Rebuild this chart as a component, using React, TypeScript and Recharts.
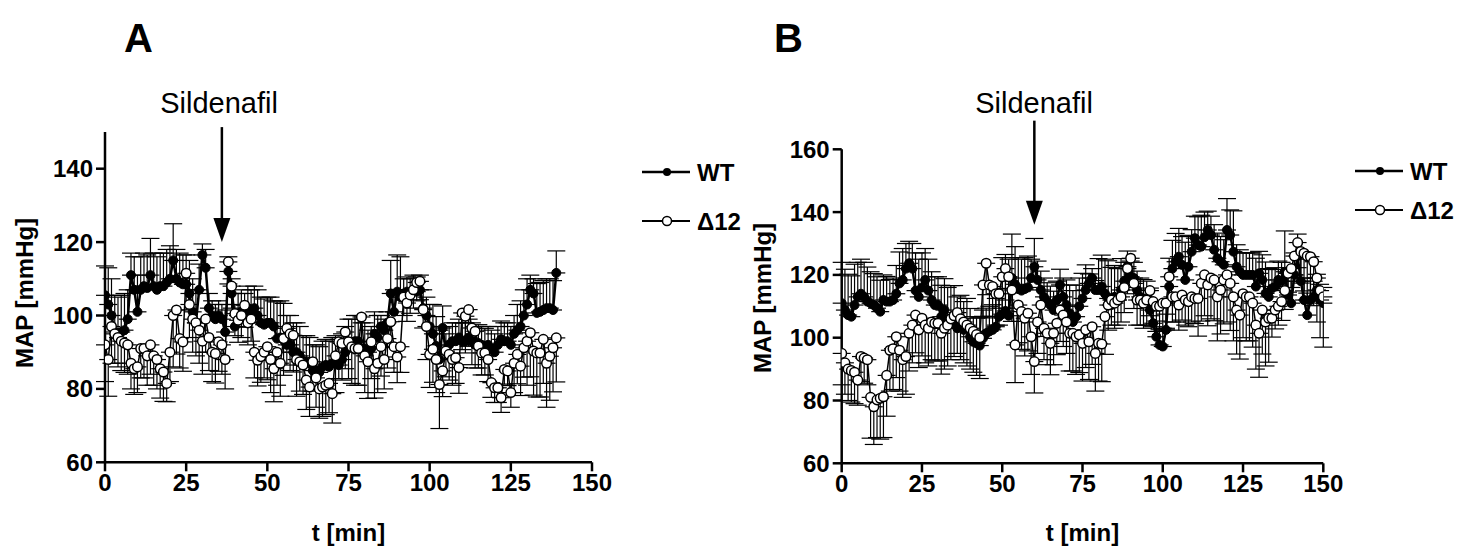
import React from 'react';
import { LineChart, Line, XAxis, YAxis, ErrorBar, ReferenceDot } from 'recharts';

// ---------- Panel A ----------
const minutesA = Array.from({ length: 140 }, (_, i) => i);
const wtA = [
  105.5, 103, 100, 95.5, 95, 95.5, 96, 99, 111, 107,
  101, 107, 108, 107.5, 111, 108, 107, 108, 108, 109,
  110, 115, 110, 109, 108.5, 108.5, 106, 101, 98, 107,
  116.5, 113, 102, 100, 99, 100, 99, 95.5, 112, 106,
  97, 100, 101, 100, 102, 101, 102, 100, 98, 97.5,
  98, 98, 97, 93.7, 94, 93.3, 92, 92, 90, 90,
  89, 87.5, 87.5, 87, 85, 85, 84.5, 86, 86.5, 86,
  87, 87.5, 86.5, 88, 90, 92, 92, 93, 93, 91,
  91, 90, 91, 95, 94, 97, 96, 98, 106, 101,
  106.5, 105, 106, 106.5, 106, 107, 106.5, 107, 102, 100,
  97, 95, 91.7, 88, 96.6, 90, 92, 93, 93, 94,
  93, 93, 94, 93, 92, 92.5, 92, 91.5, 92, 91,
  90, 92, 93.5, 93, 93, 92, 95, 96, 97, 100,
  103, 107, 106, 100.7, 101, 101.5, 102, 102, 101.5, 111.6,
];
const wtErrA = [
  8, 10, 10, 10, 10, 10, 10, 8, 6, 9,
  10, 9, 9, 9, 10, 9, 9, 9, 9, 9,
  9, 10, 8, 8, 8, 8, 9, 9, 9, 7,
  3, 5, 4, 4, 4, 4, 4, 6, 4, 4,
  6, 6, 6, 6, 6, 6, 6, 7, 7, 7,
  7, 7, 7, 10, 10, 10, 8, 8, 8, 8,
  8, 7, 7, 7, 7, 7, 7, 7, 7, 7,
  7, 7, 7, 7, 7, 7, 7, 7, 7, 7,
  7, 6, 6, 6, 6, 3, 3, 3, 9, 6,
  10, 11, 4, 4, 4, 4, 4, 4, 5, 5,
  6, 8, 8, 8, 6, 5, 5, 5, 5, 5,
  5, 5, 5, 5, 5, 5, 5, 5, 5, 5,
  5, 5, 5, 5, 5, 5, 5, 7, 7, 7,
  7, 4, 4, 8, 8, 8, 8, 8, 8, 6,
];
const d12A = [
  92, 88, 97, 95, 94, 93, 92.5, 92, 87, 85.5,
  86, 91, 91, 89, 92, 89, 88, 85.5, 84.6, 81.5,
  90, 100, 101.5, 93.7, 92.8, 111.5, 103, 99, 98, 96,
  93, 99, 94, 90, 89.6, 92.8, 92, 88, 114.6, 108,
  100.5, 98.7, 100, 102.8, 98, 99, 90, 87.8, 88.8, 90,
  91.5, 88, 85.5, 90, 87, 93.7, 96.5, 95, 94.6, 88,
  87.4, 86.5, 82.4, 80.5, 87.4, 83, 80, 80.5, 81, 81.5,
  78.7, 89, 92.8, 92.4, 95.5, 92.8, 91.5, 91, 91, 99.6,
  89, 87.4, 92.8, 85.5, 87, 91.5, 88, 93.7, 98.3, 91.5,
  88.7, 91.5, 105, 103.4, 105.6, 107, 109, 109.3, 101.6, 97,
  89.4, 90.8, 88, 81.2, 84.9, 90.3, 89.4, 88, 88.5, 85.8,
  100.7, 99.8, 101.6, 96.6, 95.7, 91.7, 89.8, 89.8, 88, 81.7,
  80.3, 80.3, 77.6, 85.3, 84.9, 79, 87, 89.4, 86.2, 91.2,
  93, 95.3, 90.3, 89.8, 89.8, 93.5, 87, 88.9, 91.2, 93.9,
];
const d12ErrA = [
  10, 10, 10, 8, 8, 8, 8, 8, 7, 7,
  7, 8, 8, 8, 8, 8, 8, 8, 8, 5,
  8, 14, 12, 8, 8, 10, 9, 9, 9, 9,
  9, 9, 9, 8, 8, 8, 8, 8, 6, 6,
  6, 6, 6, 6, 6, 6, 7, 7, 7, 7,
  9, 9, 9, 9, 9, 10, 10, 10, 10, 10,
  8, 8, 8, 8, 8, 8, 8, 8, 8, 8,
  8, 10, 10, 10, 10, 10, 10, 10, 10, 10,
  10, 10, 10, 8, 8, 8, 8, 8, 7, 7,
  7, 7, 5, 5, 5, 5, 5, 5, 5, 9,
  9, 9, 9, 12, 7, 7, 7, 7, 7, 7,
  10, 10, 10, 10, 10, 6, 6, 6, 6, 4,
  4, 4, 4, 4, 4, 4, 8, 8, 8, 8,
  12, 12, 12, 12, 12, 12, 12, 12, 12, 12,
];

// ---------- Panel B ----------
const minutesB = Array.from({ length: 151 }, (_, i) => i);
const wtB = [
  111, 108.8, 107.2, 106.7, 110.4, 113, 114, 113, 111.5, 111,
  110.4, 109.4, 108.3, 112, 111.5, 111.5, 112, 114, 117.3, 118.4,
  122, 123.7, 122, 115, 113, 116, 118.4, 115, 112, 110.4,
  110.4, 106.7, 108.8, 105, 105.6, 104.6, 103, 103.5, 102.5, 103.5,
  100.3, 98.7, 98.2, 97.5, 99.8, 101.4, 102, 102.5, 103.5, 106.7,
  107.5, 108.5, 107, 119, 117, 115.5, 115, 115.5, 116, 119,
  122.6, 118.4, 115.2, 113, 111.5, 110.4, 108.8, 112, 116.8, 113,
  110.4, 107.8, 105, 106.7, 110, 112.5, 115.2, 117.3, 119, 115.2,
  115.2, 116.3, 114, 112.5, 110.4, 113, 112, 115.2, 118, 122.6,
  119.4, 119, 115.2, 113, 112.5, 112, 108.8, 104.6, 100.3, 97.7,
  97.2, 102.5, 116.3, 122, 124.2, 125.8, 123.2, 118.4, 122.6, 127.4,
  131.7, 129.5, 129, 132, 134.3, 132.7, 128, 125.3, 124.2, 123.2,
  134.3, 132.7, 127.4, 122.6, 121, 120, 120, 120, 120, 116.3,
  120.5, 118.4, 114.1, 113, 115.7, 116.3, 118.4, 118, 121, 113.6,
  111, 120, 126, 118, 112, 107.2, 112, 113, 115.2, 112, 111,
];
const wtErrB = [
  13, 13, 13, 13, 13, 11, 11, 11, 11, 10,
  10, 10, 10, 8, 8, 7, 7, 9, 10, 10,
  8, 7, 8, 12, 12, 11, 10, 10, 9, 9,
  9, 10, 10, 11, 11, 12, 10, 10, 9, 9,
  9, 8, 8, 9, 9, 8, 8, 8, 9, 9,
  18, 18, 18, 14, 12, 10, 10, 10, 10, 6,
  9, 6, 6, 6, 6, 6, 6, 6, 5, 6,
  8, 9, 10, 10, 9, 8, 8, 3, 3, 3,
  10, 10, 11, 12, 12, 10, 10, 10, 6, 5,
  5, 5, 6, 6, 6, 6, 7, 6, 5, 5,
  5, 5, 9, 9, 9, 9, 9, 12, 10, 7,
  7, 9, 10, 8, 6, 6, 8, 8, 8, 8,
  10, 8, 13, 7, 7, 7, 7, 7, 7, 9,
  7, 8, 10, 9, 6, 6, 6, 6, 13, 7,
  7, 7, 7, 7, 7, 7, 7, 5, 5, 5, 5,
];
const d12B = [
  95, 92, 90, 89.5, 89, 86.5, 94, 93.5, 93, 81,
  78, 80.2, 80.7, 81.2, 88, 96, 96.5, 100.3, 96, 93,
  94, 101.4, 104, 107.2, 102.5, 106.2, 104, 103, 105, 104.6,
  104.6, 101.4, 103, 104, 106, 107, 108, 106, 105, 104,
  103, 102, 101, 100, 116.8, 123.7, 116.8, 116.3, 114, 114,
  119.4, 122, 119.4, 115.2, 97.7, 110.4, 108.3, 106.2, 107.8, 100.3,
  92.4, 105, 110.4, 103, 101.4, 98.2, 101.4, 104.6, 108.8, 107.2,
  105, 101.4, 101.4, 100.3, 100.9, 98.2, 102.5, 98.7, 103.5, 95,
  98.2, 98, 106.7, 110.4, 112, 111, 112, 113, 116, 122,
  125.3, 117.3, 112, 112, 111, 112, 115, 111.5, 110, 110,
  111, 111, 119.4, 113, 113, 110.4, 113.6, 112, 111.5, 113,
  112.5, 112.5, 117.3, 120, 116.8, 119, 118.4, 113, 115.2, 118.4,
  120, 117.3, 113, 108.8, 107.2, 114, 113, 113, 111, 104,
  101.4, 108.8, 105, 106.2, 106.2, 108.8, 110, 111.5, 115, 120.5,
  122, 126, 130.3, 127.4, 126.9, 126, 125.8, 124.2, 119, 115, 113,
];
const d12ErrB = [
  10, 10, 10, 10, 10, 8, 8, 8, 8, 13,
  12, 12, 13, 13, 13, 13, 13, 13, 13, 12,
  12, 12, 12, 12, 12, 12, 12, 12, 12, 12,
  12, 13, 13, 13, 13, 13, 13, 13, 13, 13,
  13, 13, 13, 13, 10, 10, 10, 10, 10, 10,
  10, 10, 10, 10, 12, 12, 12, 12, 12, 12,
  10, 10, 10, 10, 10, 10, 10, 10, 10, 10,
  10, 12, 12, 12, 12, 12, 12, 12, 12, 12,
  12, 12, 12, 8, 8, 8, 8, 8, 8, 8,
  8, 8, 8, 8, 8, 8, 8, 8, 8, 8,
  8, 8, 8, 8, 8, 8, 8, 8, 8, 8,
  8, 12, 12, 13, 13, 13, 13, 14, 14, 14,
  15, 15, 14, 14, 14, 14, 14, 14, 14, 14,
  14, 14, 14, 14, 6, 6, 6, 6, 6, 6,
  6, 6, 8, 10, 12, 14, 14, 14, 14, 15, 16,
];

const xTicks = [0, 25, 50, 75, 100, 125, 150];
const yTicksA = [60, 80, 100, 120, 140];
const yTicksB = [60, 80, 100, 120, 140, 160];
const seriesNames = ['WT', 'Δ12'];
const drugLabel = 'Sildenafil';
const sildenafilTimeA = 36;
const sildenafilTimeB = 60;

function buildRows(t: number[], wt: number[], wtErr: number[], d12: number[], d12Err: number[]) {
  return t.map((ti, i) => ({
    t: ti,
    wt: wt[i],
    wtErr: [0, wtErr[i]],
    d12: d12[i],
    d12Err: [d12Err[i], 0],
  }));
}

const rowsA = buildRows(minutesA, wtA, wtErrA, d12A, d12ErrA);
const rowsB = buildRows(minutesB, wtB, wtErrB, d12B, d12ErrB);

const FONT = '"Liberation Sans", Arial, Helvetica, sans-serif';
const tickStyle = { fill: '#000', fontSize: 24, fontWeight: 700, fontFamily: FONT };
const axisLineStyle = { stroke: '#000', strokeWidth: 2.5 };

const makeArrow = (len: number) => (props: any) => {
  const { cx, cy } = props;
  return (
    <g>
      <line x1={cx} y1={cy - len} x2={cx} y2={cy - 20} stroke="#000" strokeWidth={2.5} />
      <polygon points={`${cx - 8.5},${cy - 24} ${cx + 8.5},${cy - 24} ${cx},${cy}`} fill="#000" />
    </g>
  );
};

function Panel(props: {
  rows: any[];
  yDomain: [number, number];
  yTicks: number[];
  width: number;
  margin: any;
  arrowX: number;
  arrowY: number;
  arrowLen: number;
}) {
  const { rows, yDomain, yTicks, width, margin, arrowX, arrowY, arrowLen } = props;
  return (
    <LineChart width={width} height={550} data={rows} margin={margin}>
      <XAxis
        type="number"
        dataKey="t"
        domain={[0, 150]}
        ticks={xTicks}
        allowDataOverflow
        height={40}
        tick={tickStyle}
        tickSize={9}
        tickMargin={3}
        axisLine={axisLineStyle}
        tickLine={axisLineStyle}
        interval={0}
      />
      <YAxis
        type="number"
        domain={yDomain}
        ticks={yTicks}
        allowDataOverflow
        width={60}
        tick={tickStyle}
        tickSize={9}
        tickMargin={3}
        axisLine={axisLineStyle}
        tickLine={axisLineStyle}
        interval={0}
      />
      <Line
        type="linear"
        dataKey="wt"
        stroke="#000"
        strokeWidth={2.5}
        dot={{ r: 4.5, fill: '#000', stroke: '#000', strokeWidth: 1 }}
        isAnimationActive={false}
      >
        <ErrorBar dataKey="wtErr" width={9} stroke="#000" strokeWidth={1.2} direction="y" isAnimationActive={false} />
      </Line>
      <Line
        type="linear"
        dataKey="d12"
        stroke="#000"
        strokeWidth={1.5}
        dot={{ r: 4.8, fill: '#fff', stroke: '#000', strokeWidth: 1.5 }}
        isAnimationActive={false}
      >
        <ErrorBar dataKey="d12Err" width={9} stroke="#000" strokeWidth={1.2} direction="y" isAnimationActive={false} />
      </Line>
      <ReferenceDot x={arrowX} y={arrowY} ifOverflow="visible" shape={makeArrow(arrowLen)} />
    </LineChart>
  );
}

function LegendBox(props: { x: number; y1: number; y2: number }) {
  const { x, y1, y2 } = props;
  return (
    <g>
      <line x1={x} y1={y1} x2={x + 48} y2={y1} stroke="#000" strokeWidth={2.5} />
      <circle cx={x + 25} cy={y1} r={4} fill="#000" />
      <text x={x + 55} y={y1} dominantBaseline="central" fontSize={24} fontWeight={700} fontFamily={FONT}>
        {seriesNames[0]}
      </text>
      <line x1={x} y1={y2} x2={x + 48} y2={y2} stroke="#000" strokeWidth={2} />
      <circle cx={x + 25} cy={y2} r={4.5} fill="#fff" stroke="#000" strokeWidth={1.5} />
      <text x={x + 55} y={y2} dominantBaseline="central" fontSize={24} fontWeight={700} fontFamily={FONT}>
        {seriesNames[1]}
      </text>
    </g>
  );
}

export default function App() {
  return (
    <div
      style={{
        position: 'absolute',
        left: 0,
        top: 0,
        width: 1472,
        height: 550,
        background: '#fff',
        overflow: 'hidden',
        fontFamily: FONT,
      }}
    >
      <div style={{ position: 'absolute', left: 0, top: 0 }}>
        <Panel
          rows={rowsA}
          yDomain={[60, 150]}
          yTicks={yTicksA}
          width={740}
          margin={{ top: 132, right: 148, bottom: 47.7, left: 45 }}
          arrowX={sildenafilTimeA}
          arrowY={120}
          arrowLen={115}
        />
      </div>
      <div style={{ position: 'absolute', left: 740, top: 0 }}>
        <Panel
          rows={rowsB}
          yDomain={[60, 160]}
          yTicks={yTicksB}
          width={732}
          margin={{ top: 149.3, right: 148.7, bottom: 46.7, left: 41.7 }}
          arrowX={sildenafilTimeB}
          arrowY={136}
          arrowLen={104}
        />
      </div>
      <svg
        width={1472}
        height={550}
        style={{ position: 'absolute', left: 0, top: 0, pointerEvents: 'none' }}
      >
        <text x={124} y={52} fontSize={40} fontWeight={700} fontFamily={FONT}>A</text>
        <text x={774} y={52} fontSize={40} fontWeight={700} fontFamily={FONT}>B</text>
        <text x={219} y={113} textAnchor="middle" fontSize={29} fontFamily={FONT}>{drugLabel}</text>
        <text x={1034} y={113} textAnchor="middle" fontSize={29} fontFamily={FONT}>{drugLabel}</text>
        <text
          transform="translate(24,293) rotate(-90)"
          textAnchor="middle"
          dominantBaseline="central"
          fontSize={24}
          fontWeight={700}
          fontFamily={FONT}
        >
          MAP [mmHg]
        </text>
        <text
          transform="translate(762,298) rotate(-90)"
          textAnchor="middle"
          dominantBaseline="central"
          fontSize={24}
          fontWeight={700}
          fontFamily={FONT}
        >
          MAP [mmHg]
        </text>
        <text x={348.5} y={541} textAnchor="middle" fontSize={24} fontWeight={700} fontFamily={FONT}>t [min]</text>
        <text x={1082.5} y={541} textAnchor="middle" fontSize={24} fontWeight={700} fontFamily={FONT}>t [min]</text>
        <LegendBox x={642} y1={172} y2={221} />
        <LegendBox x={1355} y1={171} y2={210} />
      </svg>
    </div>
  );
}
